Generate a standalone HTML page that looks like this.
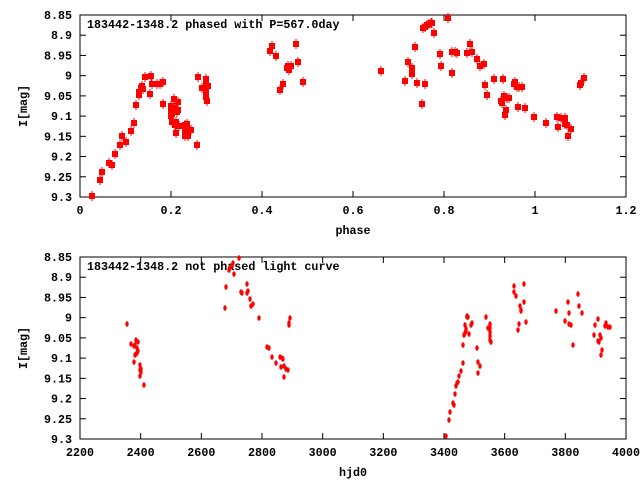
<!DOCTYPE html>
<html><head><meta charset="utf-8"><style>
html,body{margin:0;padding:0;background:#fff;width:640px;height:480px;overflow:hidden}
svg text{font-family:"Liberation Mono",monospace;font-weight:bold;font-size:11.7px;fill:#000}
</style></head><body>
<svg id="s" width="640" height="480" xmlns="http://www.w3.org/2000/svg"></svg>
<script>
var s=document.getElementById('s'),h='';
function ax(top,bot,xl,yl,title,xlabel){
  var L=80,R=626;
  h+='<rect x="'+L+'" y="'+top+'" width="'+(R-L)+'" height="'+(bot-top)+'" fill="none" stroke="#000" stroke-width="1"/>';
  for(var i=0;i<yl.length;i++){var y=top+(bot-top)*i/(yl.length-1);
    h+='<line x1="'+L+'" x2="'+(L+6)+'" y1="'+y+'" y2="'+y+'" stroke="#000"/><line x1="'+R+'" x2="'+(R-6)+'" y1="'+y+'" y2="'+y+'" stroke="#000"/>';
    h+='<text x="72" y="'+(y+4)+'" text-anchor="end">'+yl[i]+'</text>';}
  for(var i=0;i<xl.length;i++){var x=L+(R-L)*i/(xl.length-1);
    h+='<line x1="'+x+'" x2="'+x+'" y1="'+bot+'" y2="'+(bot-6)+'" stroke="#000"/><line x1="'+x+'" x2="'+x+'" y1="'+top+'" y2="'+(top+6)+'" stroke="#000"/>';
    h+='<text x="'+x+'" y="'+(bot+17)+'" text-anchor="middle">'+xl[i]+'</text>';}
  h+='<text x="87" y="'+(top+13)+'">'+title+'</text>';
  h+='<text x="353" y="'+(bot+37)+'" text-anchor="middle">'+xlabel+'</text>';
  h+='<text transform="translate(27,'+((top+bot)/2)+') rotate(-90)" text-anchor="middle">I[mag]</text>';
}
var yl=['8.85','8.9','8.95','9','9.05','9.1','9.15','9.2','9.25','9.3'];
ax(15,197,['0','0.2','0.4','0.6','0.8','1','1.2'],yl,'183442-1348.2 phased with P=567.0day','phase');
ax(257,439,['2200','2400','2600','2800','3000','3200','3400','3600','3800','4000'],yl,'183442-1348.2 not phased light curve','hjd0');
var p1=[[92,196],[100,180],[102,172],[109,163],[112,165],[115,154],[120,145],[122,136],[126,142],[131,131],[134,123],[136,105],[139,95],[139,92],[141,88],[142,86],[143,89],[145,77],[150,94],[151,76],[152,84],[157,84],[160,84],[163,104],[163,82],[171,106],[171,110],[171,116],[172,122],[172,114],[174,99],[175,108],[175,125],[176,133],[177,112],[178,102],[178,110],[179,126],[176,122],[185,125],[185,131],[185,136],[187,128],[188,136],[187,124],[191,130],[197,145],[198,77],[202,88],[206,85],[206,82],[206,92],[206,97],[207,101],[206,79],[208,86],[270,51],[272,46],[276,56],[280,90],[283,84],[288,66],[289,70],[291,66],[287,68],[296,44],[298,62],[303,82],
[381,71],[405,81],[408,62],[412,68],[412,74],[415,47],[417,83],[422,104],[423,28],[425,84],[425,27],[427,25],[429,24],[431,23],[432,23],[434,33],[448,18],[440,54],[441,66],[452,73],[452,52],[455,52],[457,53],[467,53],[470,44],[472,52],[477,59],[480,66],[484,64],[485,85],[487,95],[494,79],[501,101],[502,103],[503,79],[504,96],[505,115],[507,98],[506,110],[509,98],[514,84],[515,82],[517,87],[519,87],[522,87],[518,107],[525,108],[534,117],[546,123],[557,117],[558,127],[561,118],[565,118],[565,124],[567,125],[568,136],[571,129],[580,85],[581,83],[584,78]];
p1.forEach(function(p){h+='<rect x="'+(p[0]-3)+'" y="'+(p[1]-3)+'" width="6" height="6" fill="#f00"/><line x1="'+p[0]+'" x2="'+p[0]+'" y1="'+(p[1]-5)+'" y2="'+(p[1]+5)+'" stroke="#f00"/>';});
var p2=[[127,324],[131,344],[134,346],[135,345],[134,362],[135,355],[136,340],[136,354],[137,353],[138,351],[138,342],[137,348],[140,365],[140,370],[141,372],[140,376],[141,369],[144,385],[225,308],[226,287],[229,270],[230,268],[232,266],[233,263],[234,274],[239,258],[241,292],[242,293],[247,293],[248,291],[247,284],[250,299],[251,306],[253,304],[259,318],[267,347],[269,348],[272,357],[276,363],[280,357],[281,367],[283,359],[282,358],[284,366],[284,377],[286,369],[288,370],[289,325],[289,323],[290,318],
[446,436],[449,420],[450,412],[453,403],[454,405],[455,394],[456,386],[457,383],[458,382],[459,376],[461,371],[463,363],[463,345],[464,335],[465,333],[465,325],[466,331],[466,329],[467,317],[467,316],[468,317],[469,334],[471,325],[472,323],[477,348],[478,362],[478,373],[480,366],[486,317],[488,328],[490,328],[490,324],[490,332],[490,336],[490,340],[491,342],[514,286],[514,292],[516,296],[518,330],[519,324],[520,306],[521,310],[521,311],[524,284],[524,302],[526,322],[556,311],[565,321],[568,302],[569,313],[569,324],[571,325],[573,345],[578,294],[579,306],[582,313],[594,335],[595,325],[598,319],[598,341],[599,342],[600,335],[601,355],[601,338],[602,350],[605,326],[606,323],[608,327],[610,327]];
p2.forEach(function(p){h+='<ellipse cx="'+p[0]+'" cy="'+p[1]+'" rx="1.7" ry="2.8" fill="#f00"/>';});
s.innerHTML=h;
</script>
</body></html>
